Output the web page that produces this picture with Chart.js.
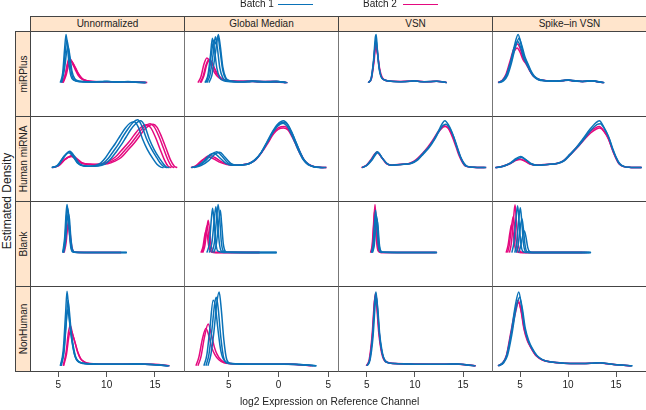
<!DOCTYPE html>
<html>
<head>
<meta charset="utf-8">
<script src="https://cdn.jsdelivr.net/npm/chart.js@4/dist/chart.umd.min.js"></script>
<style>
  html, body { margin: 0; padding: 0; background: #fff; }
  #fig { position: relative; width: 646px; height: 410px; overflow: hidden;
         font-family: "Liberation Sans", Arial, sans-serif; color: #222; }
  #fig canvas { position: absolute; }
  .frame { position: absolute; box-sizing: border-box; border: 1px solid;
           border-color: #444 #777 #444 #777; pointer-events: none; }
  .strip { position: absolute; box-sizing: border-box; background: #ffe5cc;
           border: 1px solid #444; font-size: 10px; text-align: center; overflow: hidden; }
  .strip.top { line-height: 14px; }
  .strip.side span { position: absolute; left: 50%; top: 50%; white-space: nowrap;
                     transform: translate(-50%, -50%) rotate(-90deg); }
  .txt { position: absolute; white-space: nowrap; }
  .key { position: absolute; height: 1px; }
</style>
</head>
<body>
<div id="fig"></div>
<script>
// panel labels
const methods = ['Unnormalized', 'Global Median', 'VSN', 'Spike\u2013in VSN'];
const probeSets = ['miRPlus', 'Human miRNA', 'Blank', 'NonHuman'];
const batches = ['Batch 1', 'Batch 2'];

// x axis per column
const xMins = [2.07, -9.5, 2.02, 2.08];
const xMaxs = [18.0, 5.97, 18.0, 18.12];
const log2Ticks = [5, 10, 15];
const gmedTicks = [-5, 0, 5];
const gmedTickLabels = ['5', '0', '5'];

// density curves, [x, relative density]
// --- miRPlus ---
const mirplusRawB1 = [
  [[5.2,0],[5.45,20],[5.65,70],[5.8,100],[5.95,75],[6.1,40],[6.3,14],[6.6,5],[7.2,2],[8.5,1.5],[9.6,2.5],[10,3],[10.5,2],[11.5,1.5],[12.2,2.5],[12.8,1.5],[14,0]],
  [[5.3,0],[5.55,25],[5.75,70],[5.9,88],[6.05,70],[6.25,35],[6.45,12],[6.8,4],[7.5,2],[9,1.5],[10.1,2.5],[11,1.5],[12.3,2],[13,1],[14,0]],
  [[5.35,0],[5.65,30],[5.85,62],[6.0,75],[6.2,55],[6.4,25],[6.7,8],[7.2,3],[8,2],[10,2],[12,1.8],[14.1,0]]
];
const mirplusRawB2 = [
  [[5.4,0],[5.7,15],[5.95,40],[6.15,51],[6.4,44],[6.7,32],[7.0,20],[7.4,9],[7.9,4],[8.7,2],[10,2],[11,1.5],[12.2,2],[13,1.5],[14.1,0]],
  [[5.5,0],[5.8,15],[6.05,36],[6.25,46],[6.5,41],[6.8,30],[7.1,18],[7.5,8],[8.1,3.5],[9,2],[10.2,2],[11.5,1.8],[12.5,1.5],[14.2,0]],
  [[5.45,0],[5.75,18],[6.0,42],[6.2,48],[6.45,40],[6.75,27],[7.05,15],[7.5,6],[8.2,3],[10,2],[12,1.8],[14,0]]
];
const mirplusGmedB1 = [
  [[-7.4,0],[-7.1,15],[-6.85,55],[-6.65,92],[-6.45,70],[-6.2,30],[-5.9,10],[-5.5,4],[-4.5,2],[-3.5,2],[-2.7,3],[-2,1.8],[-0.3,2.5],[0.3,1.2],[0.8,0]],
  [[-7.2,0],[-6.9,15],[-6.6,55],[-6.35,95],[-6.15,72],[-5.9,30],[-5.6,10],[-5.2,4],[-4,2],[-2.7,2.5],[-1.5,1.8],[-0.2,2.2],[0.8,0]],
  [[-7.0,0],[-6.7,15],[-6.35,60],[-6.05,100],[-5.85,75],[-5.6,32],[-5.3,10],[-4.9,4],[-3.8,2],[-2.6,3],[-1,1.8],[-0.1,2.5],[0.9,0]],
  [[-7.3,0],[-7.0,20],[-6.75,60],[-6.5,88],[-6.3,80],[-6.1,96],[-5.9,70],[-5.6,25],[-5.3,8],[-4.8,3],[-3,2],[-2.6,2.8],[-1,1.5],[0,2.2],[0.7,0]]
];
const mirplusGmedB2 = [
  [[-8.1,0],[-7.8,12],[-7.5,38],[-7.2,51],[-6.95,45],[-6.7,32],[-6.4,20],[-6.0,10],[-5.5,5],[-4.5,3],[-3.5,2],[-2.7,3],[-2,2],[-0.3,2.5],[0.8,0]],
  [[-7.9,0],[-7.6,12],[-7.3,36],[-7.0,48],[-6.75,43],[-6.5,31],[-6.2,19],[-5.8,9],[-5.3,5],[-4.2,3],[-2.8,2.5],[-1.5,2],[-0.2,2.2],[0.9,0]],
  [[-7.8,0],[-7.5,14],[-7.2,38],[-6.9,47],[-6.65,40],[-6.4,28],[-6.1,17],[-5.7,8],[-5.2,4],[-4,2.5],[-2.6,2.8],[-1,1.8],[0.7,0]]
];
const mirplusVsnB1 = [
  [[5.15,0],[5.45,8],[5.7,45],[5.9,95],[5.98,100],[6.1,70],[6.25,35],[6.45,14],[6.8,6],[7.5,3],[8.5,2],[9.5,3],[9.9,4],[10.4,2.5],[11.5,2],[12.3,3],[12.8,2],[13.3,0]],
  [[5.2,0],[5.5,10],[5.75,50],[5.95,90],[6.1,68],[6.3,30],[6.5,12],[6.9,5],[7.7,2.5],[9,2],[9.9,3.5],[10.6,2],[12.2,2.8],[13.3,0]]
];
const mirplusVsnB2 = [
  [[5.15,0],[5.45,8],[5.7,40],[5.92,81],[6.1,62],[6.3,30],[6.5,13],[6.9,5],[7.6,3],[8.6,2],[9.6,3],[9.95,4],[10.5,2.5],[11.5,2],[12.3,3],[12.9,1.8],[13.3,0]],
  [[5.2,0],[5.5,9],[5.75,42],[5.95,75],[6.12,60],[6.35,28],[6.6,11],[7,4.5],[8,2.5],[9.8,3.5],[11,2],[12.2,2.8],[13.3,0]]
];
const mirplusSpikeB1 = [
  [[2.75,0],[3.2,4],[3.6,15],[4.0,40],[4.4,75],[4.8,100],[5.1,80],[5.4,55],[5.7,42],[6.0,28],[6.4,14],[6.9,7],[7.6,4],[8.6,3],[9.5,4],[10,6],[10.5,3.5],[11.5,2.5],[12.5,4],[13,2],[13.75,0]],
  [[2.8,0],[3.3,4],[3.7,15],[4.1,40],[4.5,72],[4.9,92],[5.2,76],[5.5,54],[5.8,40],[6.1,26],[6.5,13],[7.0,6.5],[7.7,4],[8.7,3],[10,5.5],[11.5,2.5],[12.5,3.8],[13.8,0]],
  [[2.75,0],[3.2,5],[3.6,17],[4.0,42],[4.4,72],[4.75,85],[5.05,74],[5.35,52],[5.65,40],[6.0,26],[6.4,13],[6.9,6],[7.6,4],[9,3.5],[10,5],[11.5,2.5],[12.5,3.5],[13.7,0]]
];
const mirplusSpikeB2 = [
  [[2.75,0],[3.2,5],[3.6,18],[4.0,42],[4.4,65],[4.7,72],[5.0,63],[5.3,48],[5.65,38],[6.0,25],[6.4,13],[6.9,7],[7.6,4],[8.6,3],[9.5,4],[10,5.5],[10.5,3.5],[11.5,2.5],[12.5,3.8],[13,2],[13.75,0]],
  [[2.7,0],[3.15,5],[3.55,18],[3.95,44],[4.35,70],[4.75,80],[5.05,68],[5.35,50],[5.7,38],[6.05,24],[6.5,12],[7.0,6],[7.8,4],[9,3.5],[10,5],[11.5,2.5],[12.5,3.5],[13.7,0]]
];
// --- Human miRNA ---
const humanRawB1 = [
  [[4.35,0],[5.0,5],[5.6,22],[6.15,33],[6.6,22],[7.1,8],[7.7,3.5],[8.5,3],[9.2,5],[9.7,10],[10.2,20],[10.7,34],[11.2,48],[11.7,65],[12.2,80],[12.7,93],[13.2,99],[13.6,88],[14.1,61],[14.6,40],[15.2,20],[15.6,8],[16.0,1],[16.3,0]],
  [[4.3,0],[4.9,5],[5.5,21],[6.1,31],[6.55,22],[7.0,9],[7.6,3.5],[8.3,3],[8.9,5],[9.4,10],[9.9,21],[10.4,36],[10.9,50],[11.4,66],[11.9,81],[12.4,92],[12.85,95],[13.25,85],[13.7,60],[14.2,38],[14.8,18],[15.2,7],[15.6,1],[15.9,0]],
  [[4.4,0],[5.0,5],[5.6,24],[6.2,34],[6.65,24],[7.15,9],[7.8,3.5],[8.7,3],[9.5,5],[10,10],[10.5,20],[11,33],[11.5,47],[12,63],[12.5,79],[13,91],[13.5,97],[13.9,88],[14.4,60],[14.9,38],[15.5,18],[15.9,7],[16.2,1],[16.5,0]]
];
const humanRawB2 = [
  [[4.4,0],[5.0,4],[5.7,17],[6.4,24],[6.9,17],[7.5,9],[8.2,7],[9.0,6.5],[9.8,8],[10.5,13],[11.2,21],[11.8,34],[12.6,52],[13.2,68],[13.6,79],[14.1,88],[14.5,91],[14.9,85],[15.4,65],[15.9,39],[16.3,18],[16.7,3],[17.0,0]],
  [[4.35,0],[4.95,4],[5.65,17],[6.35,23],[6.85,17],[7.4,9],[8.1,7],[8.8,6.5],[9.5,8],[10.2,13],[10.9,22],[11.5,35],[12.3,53],[12.9,69],[13.3,79],[13.8,87],[14.15,89],[14.55,83],[15.05,63],[15.55,37],[15.95,17],[16.35,3],[16.7,0]],
  [[4.45,0],[5.05,4],[5.75,18],[6.45,25],[6.95,18],[7.55,9],[8.3,7],[9.2,6.5],[10.1,8],[10.8,13],[11.5,21],[12.1,34],[12.9,52],[13.5,68],[13.9,79],[14.4,87],[14.8,90],[15.2,84],[15.7,63],[16.2,37],[16.6,16],[17.0,3],[17.3,0]]
];
const humanGmedB1 = [
  [[-8.7,0],[-8.0,4],[-7.3,15],[-6.7,28],[-6.2,33],[-5.7,24],[-5.1,10],[-4.5,5],[-3.8,5.5],[-3.0,8],[-2.4,16],[-1.8,30],[-1.2,52],[-0.6,75],[-0.1,90],[0.5,97],[0.9,90],[1.3,74],[1.7,55],[2.1,35],[2.5,18],[3.0,7],[3.5,2],[4.2,0.5],[4.8,0]],
  [[-8.5,0],[-7.8,4],[-7.0,15],[-6.4,28],[-5.9,32],[-5.4,22],[-4.8,9],[-4.2,5],[-3.6,5.5],[-2.9,8.5],[-2.3,17],[-1.7,32],[-1.1,54],[-0.5,76],[0,90],[0.55,94],[0.95,88],[1.35,72],[1.75,52],[2.15,32],[2.55,16],[3.05,6],[3.6,2],[4.5,0]],
  [[-8.8,0],[-8.1,4],[-7.4,16],[-6.9,27],[-6.5,30],[-6.0,22],[-5.3,9],[-4.6,5],[-3.8,5.5],[-3.0,8],[-2.4,15],[-1.8,29],[-1.2,50],[-0.6,72],[-0.1,86],[0.45,92],[0.85,86],[1.25,71],[1.65,52],[2.05,33],[2.45,17],[2.95,6],[3.5,2],[4.6,0]]
];
const humanGmedB2 = [
  [[-8.7,0],[-8.2,4],[-7.6,16],[-6.9,25],[-6.4,21],[-5.8,13],[-5.1,7],[-4.4,5],[-3.6,6],[-2.9,9],[-2.3,17],[-1.7,32],[-1.1,52],[-0.5,72],[0,83],[0.6,85],[1.0,80],[1.4,66],[1.8,48],[2.2,30],[2.6,15],[3.1,6],[3.6,2],[4.3,0.5],[4.8,0]],
  [[-8.8,0],[-8.3,4],[-7.7,15],[-7.1,22],[-6.6,19],[-6.0,12],[-5.2,6.5],[-4.4,5],[-3.6,6],[-2.9,9],[-2.3,16],[-1.7,31],[-1.1,50],[-0.5,70],[0,80],[0.5,82],[0.95,78],[1.35,64],[1.75,47],[2.15,29],[2.6,14],[3.1,5],[3.7,1.5],[4.8,0]]
];
const humanVsnB1 = [
  [[4.5,0],[5.0,5],[5.5,17],[6.1,33],[6.6,20],[7.1,8],[7.6,5],[8.5,6.5],[9.5,8.5],[10.2,16],[10.85,30],[11.4,42],[11.9,56],[12.4,74],[12.8,90],[13.1,97],[13.5,88],[14.0,65],[14.35,42],[14.65,25],[15.0,10],[15.3,3],[16,0.8],[17.4,0]],
  [[4.55,0],[5.05,5],[5.55,16],[6.15,31],[6.65,19],[7.15,8],[7.7,5],[8.6,6.5],[9.6,8.5],[10.3,16],[10.9,29],[11.5,42],[12.0,57],[12.5,75],[12.9,87],[13.2,90],[13.6,82],[14.1,60],[14.45,39],[14.75,22],[15.1,9],[15.4,3],[16.2,0.6],[17.3,0]]
];
const humanVsnB2 = [
  [[4.5,0],[5.0,5],[5.5,16],[6.1,32],[6.6,20],[7.1,8.5],[7.6,5.5],[8.5,6.5],[9.5,8.5],[10.2,16],[10.85,29],[11.4,42],[11.9,56],[12.4,72],[12.8,82],[13.15,85],[13.55,80],[14.0,62],[14.4,40],[14.7,23],[15.05,9],[15.35,3],[16.1,0.7],[17.4,0]],
  [[4.45,0],[4.95,5],[5.45,17],[6.05,32],[6.55,21],[7.05,8],[7.6,5],[8.4,6.5],[9.4,8.5],[10.1,16],[10.8,30],[11.35,43],[11.85,57],[12.35,73],[12.75,83],[13.05,87],[13.45,82],[13.9,63],[14.3,41],[14.6,24],[14.95,10],[15.25,3],[16,0.7],[17.2,0]]
];
const humanSpikeB1 = [
  [[2.4,0],[3.2,3],[4.0,10],[4.6,19],[5.07,23],[5.6,16],[6.1,8],[6.7,5],[7.8,6.5],[8.8,8.5],[9.5,14],[10.2,28],[10.9,43],[11.6,61],[12.3,80],[12.9,93],[13.26,97],[13.7,85],[14.2,65],[14.6,40],[14.9,25],[15.3,9],[15.8,2],[16.5,0.5],[17.7,0]],
  [[2.5,0],[3.3,3],[4.1,10],[4.7,18],[5.15,21],[5.7,15],[6.2,8],[6.8,5],[7.9,6.5],[8.9,8.5],[9.6,14],[10.3,28],[11.0,43],[11.7,60],[12.4,78],[13.0,89],[13.35,91],[13.8,80],[14.3,60],[14.7,37],[15.0,22],[15.4,8],[15.9,2],[16.6,0.4],[17.6,0]]
];
const humanSpikeB2 = [
  [[2.4,0],[3.2,3],[4.0,9],[4.55,16],[4.95,18],[5.5,14],[6.0,8],[6.7,5.5],[7.8,6.5],[8.8,8.5],[9.5,14],[10.2,27],[10.9,42],[11.6,59],[12.3,75],[12.9,83],[13.25,85],[13.7,77],[14.2,60],[14.6,38],[14.9,23],[15.3,8],[15.8,2],[16.5,0.5],[17.7,0]],
  [[2.45,0],[3.25,3],[4.05,9],[4.6,15],[5.0,17],[5.55,13],[6.05,7.5],[6.75,5.5],[7.85,6.5],[8.85,8.5],[9.55,14],[10.25,27],[10.95,41],[11.65,57],[12.35,72],[12.95,80],[13.3,82],[13.75,75],[14.25,58],[14.65,36],[14.95,22],[15.35,8],[15.85,2],[16.6,0.4],[17.6,0]]
];
// --- Blank ---
const blankRawB1 = [
  [[5.45,0],[5.65,30],[5.8,80],[5.9,100],[6.0,85],[6.15,40],[6.3,10],[6.5,1.5],[7,0.5],[9,0.5],[12.1,0]],
  [[5.5,0],[5.7,30],[5.85,75],[5.95,92],[6.05,82],[6.2,38],[6.38,8],[6.6,1],[8,0.5],[11,0.4],[12.1,0]],
  [[5.55,0],[5.75,25],[5.92,68],[6.05,80],[6.15,70],[6.3,30],[6.45,7],[6.7,1],[9,0.5],[12,0]]
];
const blankRawB2 = [
  [[5.6,0],[5.8,20],[5.95,52],[6.06,65],[6.18,50],[6.32,22],[6.5,5],[6.7,1],[8,0.5],[11.5,0]],
  [[5.5,0],[5.7,18],[5.88,45],[6.0,55],[6.12,45],[6.28,18],[6.45,4],[6.7,1],[10,0.4],[11.5,0]]
];
const blankGmedB1 = [
  [[-7.2,0],[-6.95,20],[-6.75,70],[-6.63,92],[-6.5,70],[-6.3,20],[-6.1,3],[-5.5,0.5],[-3,0.4],[-0.2,0]],
  [[-6.7,0],[-6.45,20],[-6.22,72],[-6.07,100],[-5.92,72],[-5.75,22],[-5.55,3],[-5.2,0.8],[-3,0.4],[-0.2,0]],
  [[-6.95,0],[-6.7,20],[-6.45,70],[-6.3,95],[-6.15,68],[-5.95,20],[-5.75,3],[-5.3,0.6],[-2,0.4],[-0.2,0]],
  [[-6.5,0],[-6.25,18],[-6.02,62],[-5.85,88],[-5.72,60],[-5.55,18],[-5.35,3],[-5.0,0.6],[-2,0.3],[-0.2,0]]
];
const blankGmedB2 = [
  [[-7.6,0],[-7.4,15],[-7.2,50],[-7.07,67],[-6.95,50],[-6.8,18],[-6.6,3],[-6.3,0.5],[-4,0.4],[-1.9,0]],
  [[-7.8,0],[-7.6,12],[-7.42,35],[-7.3,45],[-7.17,36],[-7.0,12],[-6.8,2],[-6.5,0.5],[-4,0.3],[-1.9,0]],
  [[-7.7,0],[-7.5,14],[-7.32,42],[-7.2,55],[-7.07,42],[-6.9,14],[-6.7,2],[-6.4,0.5],[-4,0.3],[-1.9,0]]
];
const blankVsnB1 = [
  [[5.55,0],[5.72,15],[5.88,55],[6.0,77],[6.12,60],[6.25,22],[6.4,4],[6.6,0.8],[9,0.4],[12.3,0]],
  [[5.6,0],[5.78,15],[5.93,50],[6.05,70],[6.17,55],[6.3,20],[6.45,4],[6.7,0.7],[9,0.4],[12.3,0]],
  [[5.5,0],[5.66,18],[5.8,60],[5.92,88],[6.05,62],[6.18,20],[6.32,3],[6.6,0.6],[9,0.3],[12.2,0]]
];
const blankVsnB2 = [
  [[5.45,0],[5.6,15],[5.75,65],[5.86,100],[5.97,65],[6.1,20],[6.25,3],[6.5,0.5],[9,0.4],[12.3,0]],
  [[5.4,0],[5.56,15],[5.7,55],[5.8,85],[5.92,58],[6.05,18],[6.2,3],[6.45,0.5],[9,0.3],[12.1,0]]
];
const blankSpikeB1 = [
  [[4.45,0],[4.65,20],[4.85,65],[5.03,93],[5.18,65],[5.35,20],[5.55,3],[5.9,0.5],[8,0.4],[12.4,0]],
  [[4.85,0],[5.05,12],[5.25,32],[5.45,45],[5.62,32],[5.8,11],[6.0,2],[6.3,0.4],[9,0.3],[12.4,0]],
  [[4.15,0],[4.35,20],[4.55,65],[4.75,97],[4.9,65],[5.08,20],[5.28,3],[5.6,0.5],[9,0.3],[12.2,0]],
  [[4.6,0],[4.8,15],[5.0,48],[5.2,70],[5.35,50],[5.52,16],[5.72,2],[6.1,0.4],[9,0.3],[12.3,0]]
];
const blankSpikeB2 = [
  [[3.9,0],[4.1,20],[4.3,65],[4.48,99],[4.62,65],[4.8,20],[5.0,3],[5.3,0.5],[8,0.4],[12,0]],
  [[3.55,0],[3.75,15],[3.95,42],[4.13,59],[4.28,42],[4.45,14],[4.65,2],[5,0.5],[9,0.3],[11.5,0]],
  [[3.7,0],[3.9,18],[4.1,52],[4.3,75],[4.45,52],[4.62,16],[4.82,2],[5.1,0.5],[9,0.3],[11.8,0]]
];
// --- NonHuman ---
const nonhumanRawB1 = [
  [[5.2,0],[5.5,20],[5.75,70],[5.9,100],[6.05,80],[6.2,55],[6.4,34],[6.65,16],[6.9,8],[7.4,4],[8.5,2.5],[10,2],[12,2],[13.4,2.5],[15,1.5],[16.5,0]],
  [[5.3,0],[5.6,20],[5.85,65],[6.0,88],[6.15,72],[6.3,50],[6.5,30],[6.75,14],[7.0,7],[7.5,3.5],[9,2.2],[11,2],[13.2,2.3],[15,1.4],[16.4,0]],
  [[5.25,0],[5.55,18],[5.8,55],[5.95,75],[6.1,66],[6.28,46],[6.5,27],[6.75,12],[7.0,6],[7.6,3],[9,2.2],[12,2],[14,2],[16.3,0]]
];
const nonhumanRawB2 = [
  [[5.5,0],[5.8,18],[6.05,45],[6.24,54],[6.45,44],[6.75,30],[7.0,18],[7.27,10],[7.7,5],[8.1,3],[9.5,2],[11,2],[13.4,2.5],[15,2],[16.5,0]],
  [[5.55,0],[5.85,16],[6.1,40],[6.3,48],[6.5,41],[6.8,28],[7.05,17],[7.35,9],[7.8,4.5],[8.3,3],[10,2],[12,2],[14,2.2],[16.4,0]]
];
const nonhumanGmedB1 = [
  [[-7.1,0],[-6.8,15],[-6.5,45],[-6.2,85],[-5.97,99],[-5.75,75],[-5.5,35],[-5.2,8],[-4.8,3],[-3,2],[-1,2],[1.5,2],[3,1],[3.8,0]],
  [[-7.5,0],[-7.2,15],[-6.9,50],[-6.57,88],[-6.35,80],[-6.1,50],[-5.8,20],[-5.4,6],[-4.8,3],[-2,2],[1,2],[3.8,0]],
  [[-7.3,0],[-7.0,15],[-6.7,48],[-6.4,85],[-6.25,92],[-6.05,75],[-5.8,38],[-5.5,10],[-5.0,3],[-2.5,2],[0.5,2],[2.5,1.5],[3.7,0]]
];
const nonhumanGmedB2 = [
  [[-8.1,0],[-7.8,12],[-7.45,38],[-7.07,56],[-6.75,42],[-6.45,25],[-6.2,16],[-5.8,8],[-5.3,4],[-4,2.5],[-2,2],[0,2],[1,2.5],[2,1.5],[3.5,0]],
  [[-8.3,0],[-8.0,12],[-7.65,36],[-7.3,50],[-7.0,40],[-6.7,24],[-6.4,15],[-6.0,8],[-5.5,4],[-4,2.5],[-1.5,2],[1,2.2],[3.3,0]]
];
const nonhumanVsnB1 = [
  [[5.0,0],[5.3,8],[5.6,40],[5.85,90],[5.96,99],[6.1,80],[6.3,45],[6.48,25],[6.7,12],[7.0,5],[7.8,3],[9,2.5],[11,2],[13,2],[14.5,2.5],[15.3,1],[16.3,0]],
  [[5.05,0],[5.35,8],[5.65,38],[5.9,85],[6.0,92],[6.15,76],[6.35,42],[6.55,23],[6.75,11],[7.1,5],[8,3],[10,2.2],[12,2],[14.3,2.3],[16.2,0]]
];
const nonhumanVsnB2 = [
  [[5.0,0],[5.3,8],[5.6,42],[5.85,92],[5.95,97],[6.08,80],[6.28,46],[6.46,26],[6.7,12],[7.0,5.5],[7.8,3],[9,2.5],[11,2.2],[13,2.2],[14.5,2.5],[15.3,1],[16.3,0]],
  [[4.95,0],[5.25,8],[5.55,40],[5.8,86],[5.92,94],[6.05,78],[6.25,44],[6.45,24],[6.65,12],[7.0,5],[8,3],[10,2.3],[12,2.2],[14.5,2.2],[16.3,0]]
];
const nonhumanSpikeB1 = [
  [[2.7,0],[3.2,4],[3.6,14],[4.06,43],[4.5,80],[4.87,99],[5.15,80],[5.45,52],[5.8,35],[6.15,25],[6.7,14],[7.36,8],[8.2,5],[9.5,3.5],[11,3],[12.5,3.5],[13.3,4],[14,3],[15,1.5],[16.7,0]],
  [[2.8,0],[3.3,4],[3.7,14],[4.15,42],[4.6,78],[4.95,92],[5.25,76],[5.55,50],[5.9,34],[6.25,24],[6.8,13],[7.45,7.5],[8.3,5],[9.6,3.5],[11,3],[12.5,3.5],[13.4,4],[14.1,3],[15.1,1.5],[16.7,0]]
];
const nonhumanSpikeB2 = [
  [[2.7,0],[3.2,4],[3.6,15],[4.0,42],[4.45,72],[4.8,88],[5.1,74],[5.4,50],[5.75,34],[6.1,25],[6.65,14],[7.3,8],[8.2,5],[9.5,3.5],[11,3.2],[12.5,3.5],[13.3,4],[14,3],[15,1.5],[16.6,0]],
  [[2.75,0],[3.25,4],[3.65,15],[4.05,41],[4.5,70],[4.85,85],[5.15,72],[5.45,49],[5.8,34],[6.15,24],[6.7,13],[7.4,7.5],[8.3,5],[9.6,3.5],[11,3],[12.5,3.3],[13.4,3.8],[14.1,2.8],[15.1,1.4],[16.6,0]]
];

const curvesB1 = [
  [mirplusRawB1, mirplusGmedB1, mirplusVsnB1, mirplusSpikeB1],
  [humanRawB1, humanGmedB1, humanVsnB1, humanSpikeB1],
  [blankRawB1, blankGmedB1, blankVsnB1, blankSpikeB1],
  [nonhumanRawB1, nonhumanGmedB1, nonhumanVsnB1, nonhumanSpikeB1]
];
const curvesB2 = [
  [mirplusRawB2, mirplusGmedB2, mirplusVsnB2, mirplusSpikeB2],
  [humanRawB2, humanGmedB2, humanVsnB2, humanSpikeB2],
  [blankRawB2, blankGmedB2, blankVsnB2, blankSpikeB2],
  [nonhumanRawB2, nonhumanGmedB2, nonhumanVsnB2, nonhumanSpikeB2]
];

const BLUE = '#0a72b8';
const MAGENTA = '#e4097f';
const FONT = '"Liberation Sans", Arial, sans-serif';

// layout
const LEFT = 30, TOP = 31, PW = 154, PH = 85, AXIS_H = 30;

const fig = document.getElementById('fig');

function addDiv(cls, style, text) {
  const d = document.createElement('div');
  d.className = cls;
  Object.assign(d.style, style);
  if (text !== undefined) d.textContent = text;
  fig.appendChild(d);
  return d;
}

function toDatasets(curves, color) {
  return curves.map(c => ({
    data: c.map(p => ({ x: p[0], y: p[1] })),
    borderColor: color,
    borderWidth: 1.5,
    pointRadius: 0,
    fill: false,
    cubicInterpolationMode: 'monotone'
  }));
}

for (let r = 0; r < 4; r++) {
  for (let c = 0; c < 4; c++) {
    const bottom = r === 3;
    const cv = document.createElement('canvas');
    cv.width = PW;
    cv.height = bottom ? PH + AXIS_H : PH;
    cv.style.left = (LEFT + PW * c) + 'px';
    cv.style.top = (TOP + PH * r) + 'px';
    fig.appendChild(cv);

    const tickVals = c === 1 ? gmedTicks : log2Ticks;
    const tickLabs = c === 1 ? gmedTickLabels : log2Ticks.map(String);

    new Chart(cv, {
      type: 'line',
      data: {
        datasets: toDatasets(curvesB1[r][c], BLUE).concat(toDatasets(curvesB2[r][c], MAGENTA))
      },
      options: {
        responsive: false,
        animation: false,
        events: [],
        layout: { padding: 0 },
        plugins: { legend: { display: false }, tooltip: { enabled: false } },
        scales: {
          x: {
            type: 'linear',
            min: xMins[c],
            max: xMaxs[c],
            display: bottom,
            grid: { drawOnChartArea: false, drawTicks: true, tickLength: 6, color: '#555' },
            border: { display: false },
            afterBuildTicks: s => { s.ticks = tickVals.map(v => ({ value: v })); },
            afterFit: s => { s.height = AXIS_H; },
            ticks: {
              autoSkip: false, maxRotation: 0, padding: 2, color: '#222',
              font: { family: FONT, size: 10 },
              callback: v => tickLabs[tickVals.indexOf(v)]
            }
          },
          y: { display: false, min: -7, max: 107 }
        }
      }
    });

    addDiv('frame', {
      left: (LEFT + PW * c) + 'px', top: (TOP + PH * r) + 'px',
      width: (PW + 1) + 'px', height: (PH + 1) + 'px'
    });
  }
}

// column strips
methods.forEach((m, c) => {
  addDiv('strip top', {
    left: (LEFT + PW * c) + 'px', top: '16px', width: (PW + 1) + 'px', height: '16px'
  }, m);
});
// row strips
probeSets.forEach((p, r) => {
  const d = addDiv('strip side', {
    left: '15px', top: (TOP + PH * r) + 'px', width: '16px', height: (PH + 1) + 'px'
  });
  const s = document.createElement('span');
  s.textContent = p;
  d.appendChild(s);
});

// legend
addDiv('txt', { left: '240px', top: '-2px', fontSize: '10px' }, batches[0]);
addDiv('key', { left: '278px', top: '4px', width: '35px', background: BLUE });
addDiv('txt', { left: '363px', top: '-2px', fontSize: '10px' }, batches[1]);
addDiv('key', { left: '403px', top: '4px', width: '35px', background: MAGENTA });

// axis titles
addDiv('txt', { left: '240px', top: '396px', fontSize: '10.3px' }, 'log2 Expression on Reference Channel');
addDiv('txt', { left: '7px', top: '201px', fontSize: '12px',
  transform: 'translate(-50%, -50%) rotate(-90deg)' }, 'Estimated Density');
</script>
</body>
</html>
